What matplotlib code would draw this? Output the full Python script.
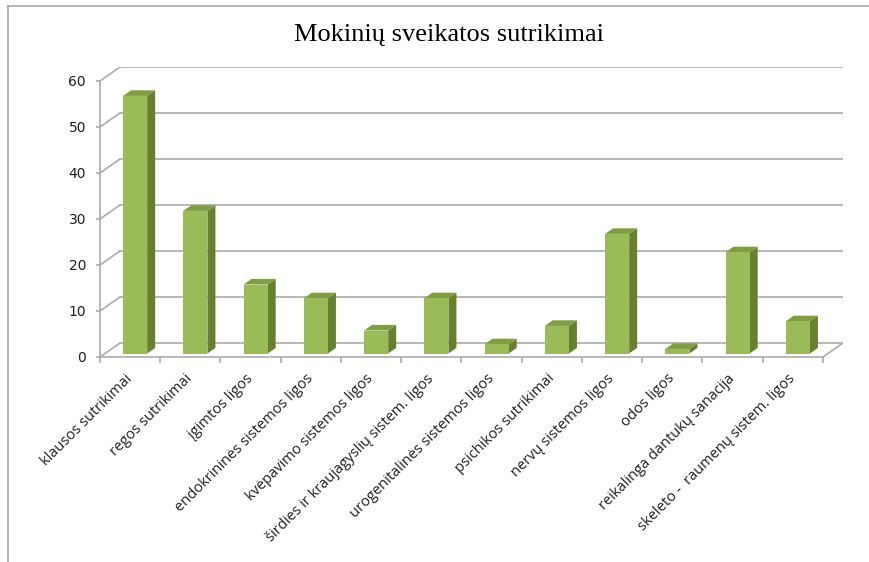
import matplotlib
matplotlib.use("Agg")
import matplotlib.pyplot as plt
from matplotlib.patches import Polygon
from matplotlib.lines import Line2D

# ---------------------------------------------------------
# duomenys
# ---------------------------------------------------------
kategorijos = [
    "klausos sutrikimai", "regos sutrikimai", "įgimtos ligos",
    "endokrininės sistemos ligos", "kvėpavimo sistemos ligos",
    "širdies ir kraujagyslių sistem. ligos", "urogenitalinės sistemos ligos",
    "psichikos sutrikimai", "nervų sistemos ligos", "odos ligos",
    "reikalinga dantukų sanacija", "skeleto -  raumenų sistem. ligos",
]
reiksmes = [56, 31, 15, 12, 5, 12, 2, 6, 26, 1, 22, 7]
y_ticks = [0, 10, 20, 30, 40, 50, 60]

# pseudo-3D gylis (duomenu vienetais)
DX, DY = 0.332, 3.04
f0, f1 = 0.25, 0.65      # stulpelio priekis / galas gylyje
plotis = 0.4

c_front = "#9BBB59"
c_side = "#66802F"
c_top = "#7E9D45"
c_grid = "#ABABAB"

fig = plt.figure(figsize=(8.69, 5.62), dpi=100)
ax = fig.add_axes([100/869, 205/562, 743/869, 290/562])
n = len(kategorijos)
ax.set_xlim(-0.5, n - 0.5 + DX)
ax.set_ylim(0, 60 + DY)

# tinklelis ant galines sienos + kaires sienos istrizaines
for v in y_ticks:
    ax.plot([-0.5 + DX, n - 0.5 + DX], [v + DY, v + DY], color=c_grid, lw=1.2, zorder=1)
    ax.plot([-0.5, -0.5 + DX], [v, v + DY], color=c_grid, lw=1.2, zorder=1)
# grindys
ax.plot([n - 0.5, n - 0.5 + DX], [0, DY], color=c_grid, lw=1.2, zorder=1)

# stulpeliai
xs = [i + f0 * DX for i in range(n)]
ax.bar(xs, reiksmes, width=plotis, bottom=f0 * DY, color=c_front, edgecolor="none", zorder=3)
ddx, ddy = (f1 - f0) * DX, (f1 - f0) * DY
for x, v in zip(xs, reiksmes):
    xl, xr = x - plotis / 2, x + plotis / 2
    b = f0 * DY
    t = v + b
    ax.add_patch(Polygon([(xr, b), (xr + ddx, b + ddy), (xr + ddx, t + ddy), (xr, t)],
                         closed=True, fc=c_side, ec="none", zorder=2.5))
    ax.add_patch(Polygon([(xl, t), (xr, t), (xr + ddx, t + ddy), (xl + ddx, t + ddy)],
                         closed=True, fc=c_top, ec="none", zorder=2.6))

# asys
for s in ["top", "right"]:
    ax.spines[s].set_visible(False)
ax.spines["left"].set_bounds(0, 60)
ax.spines["bottom"].set_bounds(-0.5, n - 0.5)
for s in ["left", "bottom"]:
    ax.spines[s].set_color(c_grid)
    ax.spines[s].set_linewidth(1.2)

ax.set_yticks(y_ticks)
ax.set_yticklabels([str(v) for v in y_ticks], fontsize=10, family="DejaVu Sans", color="#1F1F1F")
ax.tick_params(axis="y", length=3, width=1.2, color=c_grid, pad=7)

ax.set_xticks([i - 0.5 for i in range(n + 1)], minor=True)
ax.tick_params(axis="x", which="minor", length=4, width=1.2, color=c_grid, direction="out")
ax.set_xticks(range(n))
ax.set_xticklabels(kategorijos, rotation=45, ha="right", va="center",
                   rotation_mode="anchor", fontsize=10.5, family="Open Sans", color="#1F1F1F")
ax.tick_params(axis="x", which="major", length=0, pad=14)

# pavadinimas
fig.text(449/869, 1 - 35/562, "Mokinių sveikatos sutrikimai", ha="center", va="center",
         fontsize=19, family="Liberation Serif")

# remelis
fig.add_artist(Line2D([8/869, 8/869], [0, 1 - 6/562], color="#A8A8A8", lw=1.2))
fig.add_artist(Line2D([8/869, 1], [1 - 6/562, 1 - 6/562], color="#A8A8A8", lw=1.2))

fig.savefig("out.png", dpi=100)
